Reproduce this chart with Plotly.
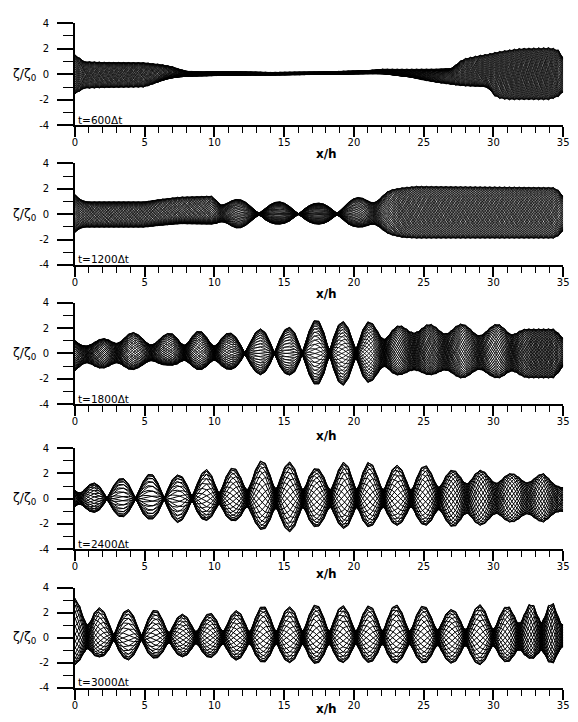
import numpy as np
import plotly.graph_objects as go

# ---------------- data ----------------
panel_labels = ["t=600\u0394t", "t=1200\u0394t", "t=1800\u0394t", "t=2400\u0394t", "t=3000\u0394t"]
x_ticks = [0, 5, 10, 15, 20, 25, 30, 35]
y_tick_vals = [-4, -2, 0, 2, 4]
y_tick_text = ["-4", "-2", "0", "2", "4"]

# Panel 1 (t=600)
ant1 = [0, 2, 4, 6, 8, 10, 12, 14, 16, 18, 20, 22, 24, 26, 28, 30, 32, 34, 36]
xe1 = [0, 0.7, 2, 5, 5.5, 6, 6.5, 7, 7.5, 8, 9, 10, 12, 14, 18, 21, 22, 24, 25, 26, 27, 27.8, 29, 29.6, 30.2, 31, 32, 34, 34.6, 35]
up1 = [1.55, 1.0, 0.95, 0.92, 0.85, 0.8, 0.72, 0.6, 0.4, 0.25, 0.2, 0.22, 0.2, 0.15, 0.2, 0.3, 0.4, 0.4, 0.4, 0.4, 0.45, 1.2, 1.5, 1.6, 1.75, 1.9, 2.05, 2.1, 2.0, 1.3]
lo1 = [-1.55, -1.1, -1.05, -1.0, -0.8, -0.6, -0.4, -0.28, -0.2, -0.15, -0.12, -0.1, -0.05, -0.05, 0.0, 0.05, 0.05, -0.2, -0.45, -0.65, -0.8, -0.9, -0.95, -1.0, -1.85, -2.0, -2.0, -2.0, -1.8, -1.4]
xq1 = [0, 35]
q1 = [1, 1]

# Panel 2 (t=1200)
ant2 = [0.4, 3.2, 6.0, 8.8, 11.7, 14.65, 17.4, 20.2, 23.0, 25.8, 28.6, 31.4, 34.2, 37.0]
xe2 = [0, 0.5, 1, 5, 6, 7.5, 9.9, 10.5, 11.7, 13.3, 14.65, 16.0, 17.4, 18.8, 20.2, 21.5, 22.5, 23.5, 24.5, 30, 34.5, 35]
up2 = [1.56, 1.05, 0.97, 0.97, 1.15, 1.35, 1.43, 1.2, 1.17, 1.0, 0.97, 0.9, 0.86, 1.0, 1.3, 1.6, 1.9, 2.1, 2.2, 2.15, 2.1, 1.4]
lo2 = [-1.45, -1.04, -1.03, -1.03, -0.9, -0.75, -0.78, -0.9, -1.12, -0.9, -0.78, -0.78, -0.78, -0.9, -1.0, -1.3, -1.6, -1.85, -1.9, -1.9, -1.9, -1.3]
xq2 = [0, 9.9, 10.5, 11.7, 13.3, 14.65, 16.0, 17.4, 18.8, 20.2, 21.5, 22.5, 23.5, 35]
q2 = [1, 1, 0.6, 0.25, 0.1, 0.05, 0.05, 0.05, 0.1, 0.3, 0.6, 0.9, 1, 1]

# Panel 3 (t=1800)
ant3 = [-0.2, 1.9, 4.1, 6.8, 8.9, 11.05, 13.3, 15.3, 17.3, 19.2, 21.1, 23.3, 25.4, 27.7, 30.3, 32.6, 34.9]
xe3 = [0, 0.5, 1.9, 4.1, 6.8, 8.9, 11.05, 13.3, 15.3, 17.3, 19.2, 21.1, 23.3, 25.4, 27.7, 30.3, 32.5, 34.4, 35]
up3 = [1.05, 0.75, 1.16, 1.67, 1.6, 1.8, 1.62, 1.94, 2.06, 2.71, 2.53, 2.53, 2.2, 2.33, 2.33, 2.33, 1.94, 1.94, 1.2]
lo3 = [-1.42, -1.2, -1.16, -1.29, -0.9, -1.3, -1.25, -1.68, -1.68, -2.53, -2.53, -2.3, -1.68, -1.68, -1.94, -1.94, -1.94, -1.94, -1.0]
xq3 = [0, 3, 5.8, 8, 10, 11.3, 12.2, 16.3, 18.2, 20.1, 22.1, 24.3, 26.7, 28.9, 31.1, 33, 35]
q3 = [0.7, 0.6, 0.45, 0.45, 0.4, 0.25, 0.06, 0.05, 0.14, 0.16, 0.5, 0.77, 0.7, 0.63, 0.67, 1, 1]

# Panel 4 (t=2400)
ant4 = [-0.7, 1.3, 3.3, 5.4, 7.4, 9.4, 11.3, 13.4, 15.4, 17.3, 19.3, 21.1, 23.1, 25.1, 27.1, 29.1, 31.3, 33.6, 35.6]
xe4 = [0, 1.3, 3.3, 5.4, 7.4, 9.4, 11.3, 13.4, 15.4, 17.3, 19.3, 21.1, 23.1, 25.1, 27.1, 29.1, 31.3, 33.6, 35]
up4 = [1.1, 1.24, 1.63, 2.0, 1.88, 2.33, 2.45, 3.05, 2.92, 2.4, 2.92, 2.92, 2.66, 2.66, 2.27, 2.27, 2.0, 2.0, 1.0]
lo4 = [-1.0, -1.08, -1.47, -1.65, -1.91, -1.73, -1.75, -2.5, -2.64, -2.25, -2.38, -2.25, -2.12, -2.12, -2.25, -2.12, -1.86, -1.86, -1.2]
xq4 = [0, 2.1, 4.4, 6.5, 8.4, 10.4, 12.4, 14.4, 16.4, 18.3, 20.2, 22.1, 24.1, 26.1, 28.1, 30.2, 32.4, 35]
q4 = [0.5, 0.08, 0.06, 0.06, 0.15, 0.25, 0.3, 0.3, 0.3, 0.3, 0.3, 0.3, 0.3, 0.4, 0.55, 0.6, 0.65, 0.8]

# Panel 5 (t=3000)
ant5 = [0.0, 1.78, 3.78, 5.77, 7.72, 9.66, 11.56, 13.47, 15.38, 17.28, 19.19, 21.1, 23.0, 25.0, 27.0, 29.0, 31.0, 32.7, 34.2, 35.7]
xe5 = [0.0, 1.78, 3.78, 5.77, 7.72, 9.66, 11.56, 13.47, 15.38, 17.28, 19.19, 21.1, 23.0, 25.0, 27.0, 29.0, 31.0, 32.7, 34.2, 35]
up5 = [3.2, 2.42, 2.29, 2.29, 1.9, 2.0, 2.2, 2.6, 2.5, 2.7, 2.6, 2.6, 2.68, 2.6, 2.28, 2.68, 2.55, 2.8, 2.94, 2.0]
lo5 = [-2.18, -1.53, -1.79, -1.66, -1.53, -1.6, -1.8, -2.0, -2.0, -2.1, -2.0, -2.0, -2.05, -2.05, -2.05, -2.18, -1.97, -1.65, -2.2, -1.0]
xq5 = [0, 0.9, 2.8, 4.8, 6.8, 8.7, 10.6, 12.5, 14.4, 16.3, 18.2, 20.1, 22.0, 24.0, 26.0, 28.0, 30.0, 31.8, 33.5, 35]
q5 = [0.45, 0.45, 0.15, 0.12, 0.25, 0.3, 0.3, 0.25, 0.25, 0.25, 0.25, 0.25, 0.25, 0.25, 0.3, 0.3, 0.3, 0.5, 0.5, 0.6]

snapshots = [50, 50, 44, 28, 28]
line_widths = [0.7, 0.75, 0.85, 1.0, 1.0]

panels = [
    (ant1, xe1, up1, lo1, xq1, q1),
    (ant2, xe2, up2, lo2, xq2, q2),
    (ant3, xe3, up3, lo3, xq3, q3),
    (ant4, xe4, up4, lo4, xq4, q4),
    (ant5, xe5, up5, lo5, xq5, q5),
]

# ---------------- layout geometry (pixels) ----------------
W, H = 578, 722
X0_PX, X1_PX = 73, 569
panel_px = [(17.5, 121.5), (160, 263.3), (301.7, 405), (449.5, 552.5), (591.7, 693.3)]
xlabel_px = [151, 293, 437, 578, 715]

xg = np.arange(0, 35.0001, 0.35)


def phase(x, ant):
    ant = np.asarray(ant, float)
    ph = np.arange(len(ant)) * np.pi
    p = np.interp(x, ant, ph)
    s0 = np.pi / (ant[1] - ant[0])
    s1 = np.pi / (ant[-1] - ant[-2])
    p = np.where(x < ant[0], (x - ant[0]) * s0, p)
    p = np.where(x > ant[-1], ph[-1] + (x - ant[-1]) * s1, p)
    return p


def snapshot_lines(ant, xe, up, lo, xq, q, n):
    U = np.interp(xg, xe, up)
    L = np.interp(xg, xe, lo)
    A = np.maximum((U - L) / 2, 1e-3)
    m = (U + L) / 2
    kap = m / A ** 2
    kap = np.clip(kap, -0.4 / A, 0.4 / A)
    c = m - kap * A ** 2
    qi = np.interp(xg, xq, q)
    a = A * (1 + qi) / 2
    b = A * (1 - qi) / 2
    psi = phase(xg, ant)
    xs, ys = [], []
    for j in range(n):
        th = 2 * np.pi * j / n + 0.13
        s = a * np.cos(psi - th) + b * np.cos(psi + th)
        eta = s + kap * s ** 2 + c
        xs.extend(xg.tolist() + [None])
        ys.extend(eta.tolist() + [None])
    return xs, ys


fig = go.Figure()
FONT = "DejaVu Sans, Arial, sans-serif"
annotations = []
for i, (pan, n) in enumerate(zip(panels, snapshots)):
    xs, ys = snapshot_lines(*pan, n)
    k = "" if i == 0 else str(i + 1)
    fig.add_trace(go.Scatter(x=xs, y=ys, mode="lines", xaxis="x" + k, yaxis="y" + k,
                             line=dict(color="black", width=line_widths[i]), hoverinfo="skip",
                             showlegend=False))
    top, bot = panel_px[i]
    ydom = [1 - bot / H, 1 - top / H]
    xdom = [X0_PX / W, X1_PX / W]
    fig.update_layout(**{
        "xaxis" + k: dict(domain=xdom, anchor="y" + k, range=[0, 35], tickvals=x_ticks,
                          ticks="outside", ticklen=10, tickwidth=1.5, tickcolor="black",
                          showline=True, linecolor="black", linewidth=1.5,
                          showgrid=False, zeroline=False, ticklabeloverflow="allow",
                          ticklabelstandoff=-3,
                          minor=dict(dtick=1, ticks="outside", ticklen=6, tickwidth=1.2,
                                     tickcolor="black", showgrid=False),
                          tickfont=dict(family=FONT, size=10, color="black")),
        "yaxis" + k: dict(domain=ydom, anchor="x" + k, range=[-4, 4],
                          tickvals=y_tick_vals, ticktext=y_tick_text,
                          ticks="outside", ticklen=16, tickwidth=1.5, tickcolor="black",
                          showline=True, linecolor="black", linewidth=1.5,
                          showgrid=False, zeroline=False, ticklabelstandoff=6,
                          minor=dict(dtick=1, ticks="outside", ticklen=10, tickwidth=1.2,
                                     tickcolor="black", showgrid=False),
                          tickfont=dict(family=FONT, size=10, color="black")),
    })
    annotations.append(dict(text=panel_labels[i], x=0.05, y=-3.55, xref="x" + k, yref="y" + k,
                            xanchor="left", yanchor="middle", showarrow=False,
                            font=dict(family=FONT, size=10.5, color="black")))
    annotations.append(dict(text="\u03b6/\u03b6<sub>0</sub>", x=8 / W, y=0, xref="paper", yref="y" + k,
                            xanchor="left", yanchor="middle", showarrow=False,
                            font=dict(family=FONT, size=12.5, color="black")))
    annotations.append(dict(text="<b>x/h</b>", x=329 / W, y=1 - xlabel_px[i] / H, xref="paper",
                            yref="paper", xanchor="center", yanchor="middle", showarrow=False,
                            font=dict(family=FONT, size=12, color="black")))

fig.update_layout(width=W, height=H, margin=dict(l=0, r=0, t=0, b=0),
                  paper_bgcolor="white", plot_bgcolor="white", showlegend=False,
                  annotations=annotations)
fig.write_html("out.html", config={"displayModeBar": False},
               post_script="document.body.style.margin='0';")
